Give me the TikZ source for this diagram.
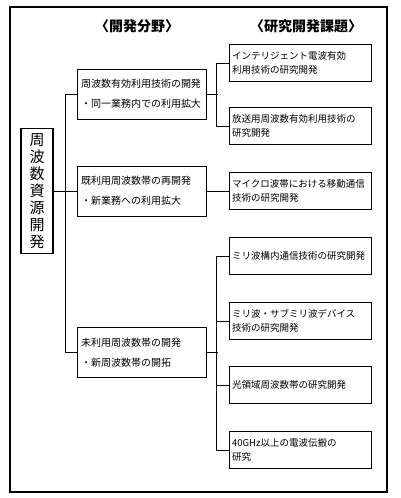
\documentclass[tikz,border=0pt]{standalone}
\usepackage{fontspec}
\setmainfont{Noto Sans CJK JP}
\usepackage{tikz}
\usetikzlibrary{positioning,calc}
\tikzset{
  srcbox/.style={draw, line width=1.1pt, minimum width=32pt, minimum height=125pt,
                 inner sep=0pt, align=center, font=\fontsize{15}{17}\selectfont},
  fldbox/.style={draw, line width=1pt, minimum width=129pt, minimum height=50pt,
                 inner xsep=4pt, text width=121pt, align=left,
                 font=\fontsize{10}{20}\selectfont},
  topbox/.style={draw, line width=1pt, minimum width=142pt, minimum height=37pt,
                 inner xsep=3pt, text width=136pt, align=left,
                 font=\fontsize{9.5}{14}\selectfont},
  hdr/.style={font=\fontsize{14}{16}\selectfont\bfseries},
  ln/.style={line width=1pt},
}
\begin{document}
\begin{tikzpicture}[x=1pt, y=-1pt]
\useasboundingbox (0,0) rectangle (400,498);
\draw[line width=1.1pt] (10,7) rectangle (387,492);

% headings
\node[hdr] (hfld) at (137,26) {〈開発分野〉};
\node[hdr] (htop) at (306,26) {〈研究開発課題〉};

% root
\node[srcbox] (src) at (37,191) {周\\波\\数\\資\\源\\開\\発};

% fields
\node[fldbox] (m1) at (141.5,94) {周波数有効利用技術の開発\\・同一業務内での利用拡大};
\node[fldbox] (m2) at (141.5,191) {既利用周波数帯の再開発\\・新業務への利用拡大};
\node[fldbox] (m3) at (141.5,352.5) {未利用周波数帯の開発\\・新周波数帯の開拓};

% topics
\node[topbox] (r1) at (300,63) {インテリジェント電波有効\\利用技術の研究開発};
\node[topbox] (r2) at (300,126) {放送用周波数有効利用技術の\\研究開発};
\node[topbox] (r3) at (300,191) {マイクロ波帯における移動通信\\技術の研究開発};
\node[topbox] (r4) at (300,256) {ミリ波構内通信技術の研究開発};
\node[topbox] (r5) at (300,321) {ミリ波・サブミリ波デバイス\\技術の研究開発};
\node[topbox] (r6) at (300,385) {光領域周波数帯の研究開発};
\node[topbox] (r7) at (300,450) {40GHz以上の電波伝搬の\\研究};

% connectors
\draw[ln] (src) -- (m2);
\draw[ln] (m1.west) -- ++(-11,0) |- (m3.west);
\draw[ln] (m1.east) -- ++(11,0);
\draw[ln] (r1.west) -- ++(-12,0) |- (r2.west);
\draw[ln] (m2) -- (r3);
\draw[ln] (m3.east) -- ++(11,0);
\draw[ln] (r4.west) -- ++(-12,0) |- (r7.west);
\draw[ln] (r5.west) -- ++(-12,0);
\draw[ln] (r6.west) -- ++(-12,0);
\end{tikzpicture}
\end{document}
